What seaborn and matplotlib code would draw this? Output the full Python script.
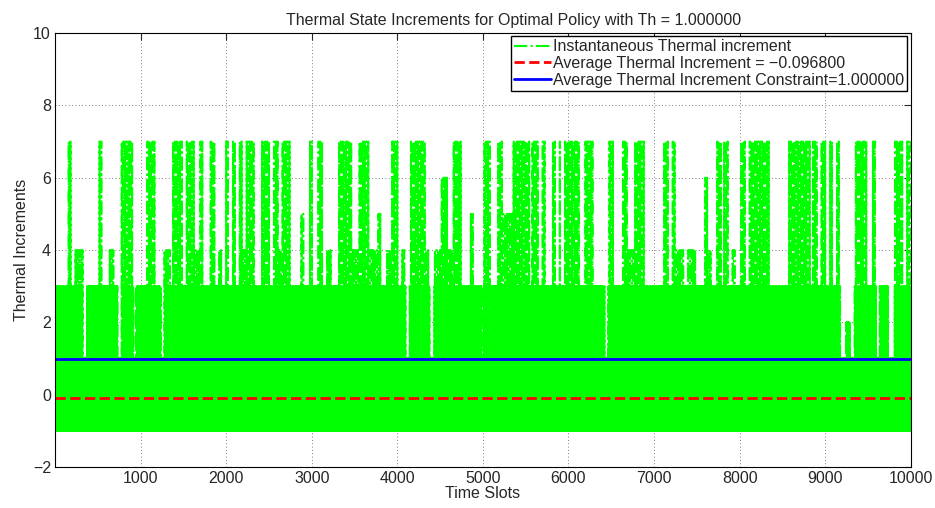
import numpy as np
import pandas as pd
import matplotlib
matplotlib.use("Agg")
import matplotlib.pyplot as plt
import seaborn as sns

# ---- data (segment start slot -> peak level of the increments) ----
seg_start = [0, 140, 187, 234, 323, 370, 506, 549, 623, 682, 732, 779, 915, 946, 1071, 1161,
             1239, 1278, 1344, 1371, 1488, 1538, 1636,
             1692, 1739, 1809, 1879, 1906, 1945, 1996, 2035, 2074, 2113, 2148, 2191, 2237,
             2335, 2413, 2510, 2541, 2607, 2658, 2744, 2860, 2900, 2970, 3016, 3075, 3125,
             3172, 3231, 3308,
             3386, 3472, 3542, 3678, 3775, 3815, 3873, 3920, 4009, 4048, 4095, 4145, 4321,
             4379, 4430, 4516, 4593, 4640, 4749, 4847, 4897, 4983, 5002,
             5081, 5178, 5229, 5354, 5541, 5568, 5657, 5685, 5735, 5802, 5852, 5883, 5918,
             5946, 6125, 6191, 6296, 6425, 6464, 6530, 6620, 6698,
             6775, 6884, 7106, 7172, 7203, 7250, 7340, 7398, 7496, 7585, 7632, 7679, 7729,
             7780, 7819, 7866, 7905, 7944, 8002, 8068, 8107, 8352,
             8566, 8839, 8858, 8905, 8956, 9014, 9045, 9092, 9131, 9178, 9240, 9287, 9345,
             9489, 9540, 9598, 9637, 9735, 9813, 9910, 9949]
seg_peak = [3, 7, 3, 4, 1, 3, 7, 3, 4, 3, 1, 7, 1, 3, 7, 3,
            1, 4, 3, 7, 3, 7, 4,
            7, 3, 7, 3, 4, 3, 7, 3, 7, 3, 7, 4, 7,
            3, 7, 3, 7, 4, 7, 3, 5, 3, 7, 3, 7, 3,
            4, 3, 7,
            7, 4, 7, 4, 5, 3, 4, 7, 3, 4, 1, 7, 4,
            1, 4, 6, 4, 7, 3, 5, 3, 1, 7,
            3, 7, 5, 7, 3, 7, 3, 7, 3, 7, 3, 7, 3,
            7, 3, 7, 3, 1, 7, 3, 7, 4,
            7, 3, 7, 3, 7, 4, 3, 4, 3, 6, 4, 3, 7,
            3, 7, 3, 4, 3, 7, 3, 7, 3,
            7, 3, 7, 3, 7, 3, 7, 3, 7, 1, 2, 1, 7,
            3, 7, 1, 3, 1, 7, 3, 7]
low_level = -1          # lower level of the oscillation
mid_level = 1           # intermediate level
common_level = 3        # frequent upper level
n_slots = 10000
avg_increment = -0.0968
constraint = 1.0
threshold = 1.0

# ---- build the instantaneous series from the read segment levels ----
t = np.arange(1, n_slots + 1)
idx = np.searchsorted(seg_start, t - 1, side="right") - 1
peaks = np.array(seg_peak)[idx].astype(float)
phase = t % 20
vals = np.where(phase % 2 == 1, float(low_level), float(mid_level))
sel3 = (phase == 7) | (phase == 14)
vals[sel3] = np.minimum(peaks[sel3], common_level)
vals[phase == 0] = peaks[phase == 0]
df = pd.DataFrame({"t": t, "v": vals})
df_avg = pd.DataFrame({"t": [1, n_slots], "v": [avg_increment, avg_increment]})
df_con = pd.DataFrame({"t": [1, n_slots], "v": [constraint, constraint]})

sns.set_style("white")
plt.rcParams["font.family"] = ["Liberation Sans", "DejaVu Sans"]

fig = plt.figure(figsize=(9.35, 5.08), dpi=100)
ax = fig.add_axes([0.059, 0.0807, 0.915, 0.8543])

sns.lineplot(data=df, x="t", y="v", ax=ax, color="#00ff00", lw=1.5, linestyle="-.",
             estimator=None, sort=False, label="Instantaneous Thermal increment")
sns.lineplot(data=df_avg, x="t", y="v", ax=ax, color="#ff0000", lw=2, linestyle="--",
             estimator=None, label="Average Thermal Increment = \u2212%.6f" % abs(avg_increment))
sns.lineplot(data=df_con, x="t", y="v", ax=ax, color="#0000ff", lw=2, linestyle="-",
             estimator=None, label="Average Thermal Increment Constraint=%.6f" % constraint)

ax.set_xlim(1, n_slots)
ax.set_ylim(-2, 10)
ax.set_xticks(np.arange(1000, 10001, 1000))
ax.set_yticks(np.arange(-2, 11, 2))
ax.set_yticklabels([("\u2212%d" % abs(v)) if v < 0 else "%d" % v for v in range(-2, 11, 2)])
ax.grid(True, linestyle=(0, (1, 3)), color="#555555", lw=0.6)
ax.tick_params(direction="in", length=5, top=True, right=True, labelsize=11.5, width=0.8, pad=3)
for s in ax.spines.values():
    s.set_color("black")
    s.set_linewidth(0.8)
ax.set_xlabel("Time Slots", fontsize=11.5, labelpad=0)
ax.set_ylabel("Thermal Increments", fontsize=11.5, labelpad=3)
ax.set_title("Thermal State Increments for Optimal Policy with Th = %.6f" % threshold,
             fontsize=11.5, pad=6, x=0.536)

leg = ax.legend(loc="upper right", fontsize=11.5, frameon=True, fancybox=False,
                edgecolor="black", framealpha=1, borderpad=0.2, labelspacing=0.1,
                handlelength=2.3, handletextpad=0.15, borderaxespad=0.2)
leg.get_frame().set_linewidth(1.0)

fig.savefig("out.png", dpi=100)
